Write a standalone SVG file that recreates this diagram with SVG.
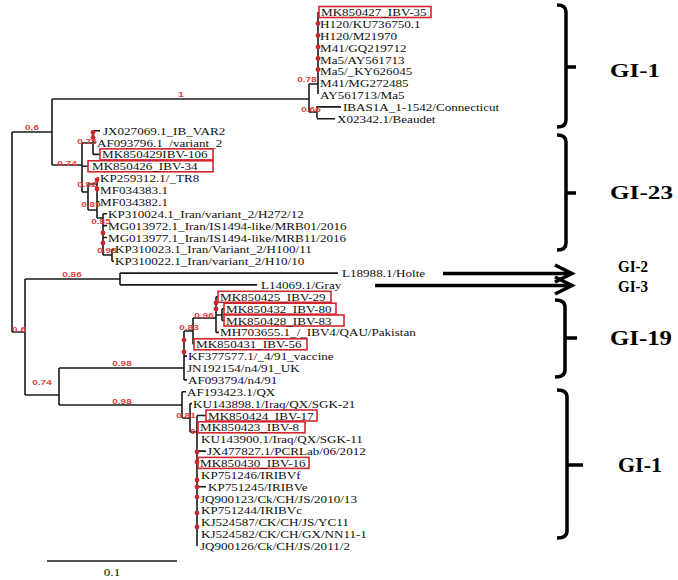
<svg xmlns="http://www.w3.org/2000/svg" width="678" height="580" viewBox="0 0 678 580">
<style>
.ln{fill:none;stroke:#1a1a1a;stroke-width:1.6}
.lf{font-family:"Liberation Serif","Times New Roman",serif;font-size:11px;fill:#111}
.bx{fill:none;stroke:#d0262d;stroke-width:1.6}
.bs{font-family:"Liberation Sans",Arial,sans-serif;font-size:8px;font-weight:bold;fill:#e5403c;text-anchor:middle}
.dot{fill:#c8282c}
.br{fill:none;stroke:#000;stroke-width:3.5;stroke-linejoin:miter}
.gl{font-family:"Liberation Serif","Times New Roman",serif;font-weight:bold;fill:#000}
</style>
<rect width="678" height="580" fill="#fff"/>

<g id="connectors">
<path class="ln" d="M12 132V332M12 132H52M52 99V165M52 99H309M309 84V112M309 84H318M318 12V94M309 112H317M317 106V118M317 106.9H341M317 118.8H335"/>
<path class="ln" d="M52 165H82M82 143V192M82 143H93M93 130.7V154.4M93 130.7H100M93 142.5H96M93 154.4H100M82 166.3H88M82 192H88M88 184V210M88 184H97M97 178.1V218M97 178.1H99M97 190H99M97 201.9H99M88 210H97M97 218H103M103 213.7V255M103 213.7H107M103 225.6H107M103 237.5H107M103 255H112M112 249.3V261.2M112 249.3H114M112 261.2H114"/>
<path class="ln" d="M12 332H25M25 279V395M25 279H120M120 273.1V284.9M120 273.1H338M120 284.9H257M25 395H59M59 368V405M59 368H184"/>
<path class="ln" d="M184 331V379.9M184 331H193M193 318V344.3M193 344.3H194M193 318H216M216 296.8V332.4M216 296.8H218M216 315H222M222 308.7V320.5M222 308.7H224M222 320.5H224M216 332.4H219M184 356.1H187M184 379.9H187"/>
<path class="ln" d="M59 405H182M182 391.7V418M182 391.7H186M182 418H190M190 403.6V432M190 403.6H192M190 432H197M197 415.5V546M197 415.5H206M197 451.1H206M197 486.7H206"/>
<path class="ln" d="M47 561H177"/>
<g id="arrows" class="br">
<path d="M443 273.5H569M555 265L572 273.5L555 282"/>
<path d="M375 285.5H569M555 277L572 285.5L555 294"/>
</g>
<g id="brackets" class="br">
<path d="M557 5Q566 5 566 12V120Q566 127 557 127M566 67H576"/>
<path d="M557 135Q566 135 566 142V243Q566 250 557 250M566 193H576"/>
<path d="M555 300Q565 300 565 307V370Q565 377 555 377M565 338H577"/>
<path d="M557 390Q567 390 567 397V531Q567 538 557 538M567 465H583"/>
</g>
</g>

<g id="dots" class="dot">
<circle cx="318" cy="23.5" r="2.4"/><circle cx="318" cy="35.5" r="2.4"/><circle cx="318" cy="47" r="2.4"/><circle cx="318" cy="58.5" r="2.4"/><circle cx="318" cy="69.5" r="2.4"/>
<circle cx="93" cy="132.5" r="2.4"/><circle cx="93" cy="137.5" r="2.4"/>
<circle cx="97" cy="180" r="2.4"/><circle cx="97" cy="189" r="2.4"/>
<circle cx="103" cy="233" r="2.4"/><circle cx="103" cy="243" r="2.4"/>
<circle cx="184" cy="340" r="2.4"/><circle cx="184" cy="352" r="2.4"/>
<circle cx="216" cy="303" r="2.4"/><circle cx="216" cy="309" r="2.4"/>
<circle cx="197" cy="452" r="2.4"/><circle cx="197" cy="462" r="2.4"/><circle cx="197" cy="480" r="2.4"/><circle cx="197" cy="487" r="2.4"/><circle cx="197" cy="497" r="2.4"/><circle cx="197" cy="513" r="2.4"/><circle cx="197" cy="527" r="2.4"/>
</g>

<g id="supports" class="bs">
<text transform="translate(32 130) scale(1.25 1)">0.6</text>
<text transform="translate(181 97) scale(1.25 1)">1</text>
<text transform="translate(67 166) scale(1.25 1)">0.74</text>
<text transform="translate(87 144) scale(1.25 1)">0.75</text>
<text transform="translate(87 187) scale(1.25 1)">0.82</text>
<text transform="translate(91 207) scale(1.25 1)">0.89</text>
<text transform="translate(101 224) scale(1.25 1)">0.85</text>
<text transform="translate(107 253) scale(1.25 1)">0.93</text>
<text transform="translate(307 82) scale(1.25 1)">0.78</text>
<text transform="translate(311 112) scale(1.25 1)">0.66</text>
<text transform="translate(72 277) scale(1.25 1)">0.86</text>
<text transform="translate(19 332) scale(1.25 1)">0.6</text>
<text transform="translate(42 385) scale(1.25 1)">0.74</text>
<text transform="translate(122 366) scale(1.25 1)">0.98</text>
<text transform="translate(189 330) scale(1.25 1)">0.83</text>
<text transform="translate(204 318) scale(1.25 1)">0.96</text>
<text transform="translate(122 404) scale(1.25 1)">0.98</text>
<text transform="translate(186 418) scale(1.25 1)">0.81</text>
<text transform="translate(193 434) scale(1.25 1)">0</text>
</g>

<g id="leaves" class="lf">
<g id="leaf01"><rect class="bx" x="319" y="6.5" width="112" height="11"/><text transform="translate(321 16) scale(1.19 1)">MK850427_IBV-35</text></g>
<g id="leaf02"><text transform="translate(320 27.9) scale(1.19 1)">H120/KU736750.1</text></g>
<g id="leaf03"><text transform="translate(320 39.7) scale(1.19 1)">H120/M21970</text></g>
<g id="leaf04"><text transform="translate(320 51.6) scale(1.19 1)">M41/GQ219712</text></g>
<g id="leaf05"><text transform="translate(320 63.5) scale(1.19 1)">Ma5/AY561713</text></g>
<g id="leaf06"><text transform="translate(320 75.3) scale(1.19 1)">Ma5/_KY626045</text></g>
<g id="leaf07"><text transform="translate(320 87.2) scale(1.19 1)">M41/MG272485</text></g>
<g id="leaf08"><text transform="translate(320 99.1) scale(1.19 1)">AY561713/Ma5</text></g>
<g id="leaf09"><text transform="translate(343 110.9) scale(1.19 1)">IBAS1A_1-1542/Connecticut</text></g>
<g id="leaf10"><text transform="translate(337 122.8) scale(1.19 1)">X02342.1/Beaudet</text></g>
<g id="leaf11"><text transform="translate(103 134.7) scale(1.19 1)">JX027069.1_IB_VAR2</text></g>
<g id="leaf12"><text transform="translate(97 146.5) scale(1.19 1)">AF093796.1_/variant_2</text></g>
<g id="leaf13"><rect class="bx" x="100" y="148.9" width="113" height="11"/><text transform="translate(102 158.4) scale(1.19 1)">MK850429IBV-106</text></g>
<g id="leaf14"><rect class="bx" x="88" y="160.8" width="125" height="11"/><text transform="translate(92 170.3) scale(1.19 1)">MK850426_IBV-34</text></g>
<g id="leaf15"><text transform="translate(100 182.1) scale(1.19 1)">KP259312.1/_TR8</text></g>
<g id="leaf16"><text transform="translate(100 194) scale(1.19 1)">MF034383.1</text></g>
<g id="leaf17"><text transform="translate(100 205.9) scale(1.19 1)">MF034382.1</text></g>
<g id="leaf18"><text transform="translate(108 217.7) scale(1.19 1)">KP310024.1_Iran/variant_2/H272/12</text></g>
<g id="leaf19"><text transform="translate(108 229.6) scale(1.19 1)">MG013972.1_Iran/IS1494-like/MRB01/2016</text></g>
<g id="leaf20"><text transform="translate(108 241.5) scale(1.19 1)">MG013977.1_Iran/IS1494-like/MRB11/2016</text></g>
<g id="leaf21"><text transform="translate(115 253.3) scale(1.19 1)">KP310023.1_Iran/Variant_2/H100/11</text></g>
<g id="leaf22"><text transform="translate(115 265.2) scale(1.19 1)">KP310022.1_Iran/variant_2/H10/10</text></g>
<g id="leaf23"><text transform="translate(342 277.1) scale(1.19 1)">L18988.1/Holte</text></g>
<g id="leaf24"><text transform="translate(261 288.9) scale(1.19 1)">L14069.1/Gray</text></g>
<g id="leaf25"><rect class="bx" x="218" y="291.3" width="113" height="11"/><text transform="translate(220 300.8) scale(1.19 1)">MK850425_IBV-29</text></g>
<g id="leaf26"><rect class="bx" x="224" y="303.2" width="112" height="11"/><text transform="translate(226 312.7) scale(1.19 1)">MK850432_IBV-80</text></g>
<g id="leaf27"><rect class="bx" x="224" y="315" width="120" height="11"/><text transform="translate(226 324.5) scale(1.19 1)">MK850428_IBV-83</text></g>
<g id="leaf28"><text transform="translate(220 336.4) scale(1.19 1)">MH703655.1_/_IBV4/QAU/Pakistan</text></g>
<g id="leaf29"><rect class="bx" x="194" y="338.8" width="113" height="11"/><text transform="translate(196 348.3) scale(1.19 1)">MK850431_IBV-56</text></g>
<g id="leaf30"><text transform="translate(188 360.1) scale(1.19 1)">KF377577.1/_4/91_vaccine</text></g>
<g id="leaf31"><text transform="translate(187 372) scale(1.19 1)">JN192154/n4/91_UK</text></g>
<g id="leaf32"><text transform="translate(188 383.9) scale(1.19 1)">AF093794/n4/91</text></g>
<g id="leaf33"><text transform="translate(187 395.7) scale(1.19 1)">AF193423.1/QX</text></g>
<g id="leaf34"><text transform="translate(193 407.6) scale(1.19 1)">KU143898.1/Iraq/QX/SGK-21</text></g>
<g id="leaf35"><rect class="bx" x="206" y="410" width="111" height="11"/><text transform="translate(208 419.5) scale(1.19 1)">MK850424_IBV-17</text></g>
<g id="leaf36"><rect class="bx" x="198" y="421.8" width="107" height="11"/><text transform="translate(200 431.3) scale(1.19 1)">MK850423_IBV-8</text></g>
<g id="leaf37"><text transform="translate(201 443.2) scale(1.19 1)">KU143900.1/Iraq/QX/SGK-11</text></g>
<g id="leaf38"><text transform="translate(207 455.1) scale(1.19 1)">JX477827.1/PCRLab/06/2012</text></g>
<g id="leaf39"><rect class="bx" x="198" y="457.4" width="111" height="11"/><text transform="translate(200 466.9) scale(1.19 1)">MK850430_IBV-16</text></g>
<g id="leaf40"><text transform="translate(201 478.8) scale(1.19 1)">KP751246/IRIBVf</text></g>
<g id="leaf41"><text transform="translate(208 490.7) scale(1.19 1)">KP751245/IRIBVe</text></g>
<g id="leaf42"><text transform="translate(200 502.5) scale(1.19 1)">JQ900123/Ck/CH/JS/2010/13</text></g>
<g id="leaf43"><text transform="translate(201 514.4) scale(1.19 1)">KP751244/IRIBVc</text></g>
<g id="leaf44"><text transform="translate(201 526.3) scale(1.19 1)">KJ524587/CK/CH/JS/YC11</text></g>
<g id="leaf45"><text transform="translate(201 538.1) scale(1.19 1)">KJ524582/CK/CH/GX/NN11-1</text></g>
<g id="leaf46"><text transform="translate(200 550) scale(1.19 1)">JQ900126/Ck/CH/JS/2011/2</text></g>
</g>

<g id="scale"><text class="lf" transform="translate(112 576) scale(1.19 1)" text-anchor="middle">0.1</text></g>

<g id="groups" class="gl">
<text x="610" y="77" font-size="19" textLength="50" lengthAdjust="spacingAndGlyphs">GI-1</text>
<text x="610" y="199" font-size="19" textLength="63" lengthAdjust="spacingAndGlyphs">GI-23</text>
<text x="618" y="272" font-size="16" textLength="30" lengthAdjust="spacingAndGlyphs">GI-2</text>
<text x="618" y="292" font-size="16" textLength="30" lengthAdjust="spacingAndGlyphs">GI-3</text>
<text x="610" y="345" font-size="20" textLength="62" lengthAdjust="spacingAndGlyphs">GI-19</text>
<text x="618" y="472" font-size="21" textLength="44" lengthAdjust="spacingAndGlyphs">GI-1</text>
</g>
</svg>
